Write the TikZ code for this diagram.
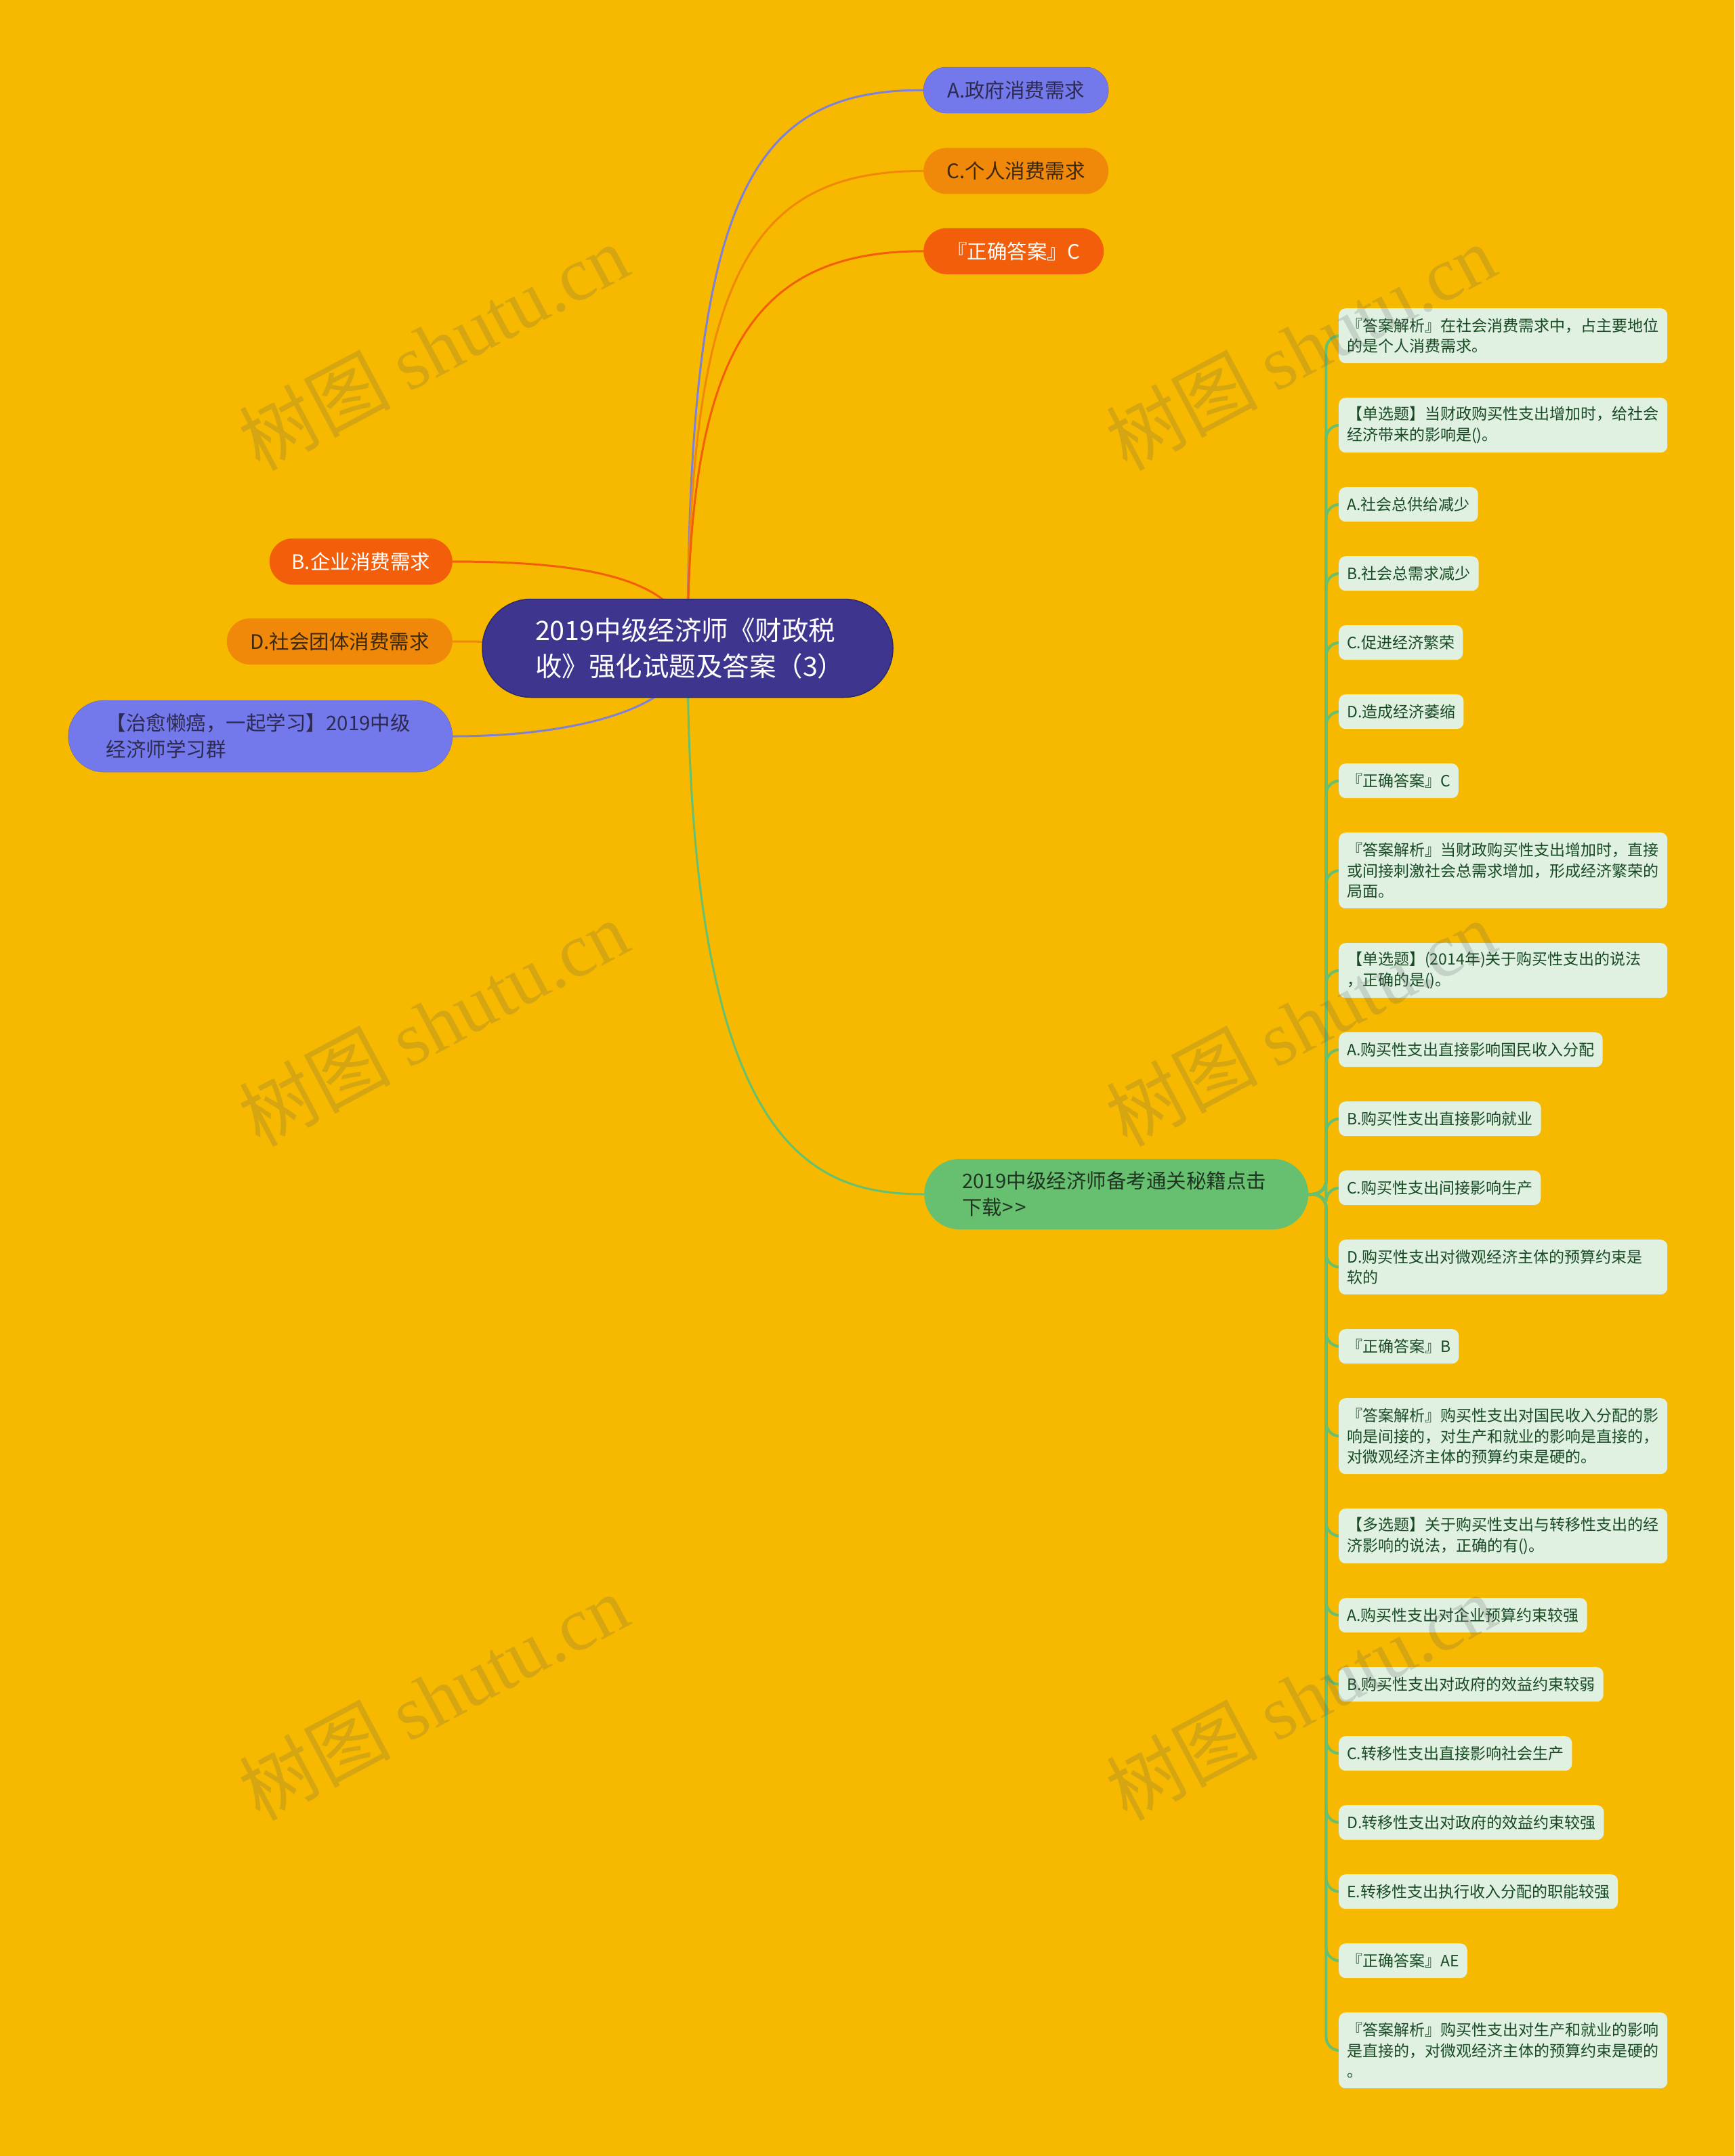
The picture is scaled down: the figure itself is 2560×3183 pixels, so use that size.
\documentclass[tikz,border=0pt]{standalone}
\usepackage{fontspec}
\setmainfont{Noto Sans CJK SC}
\newfontfamily\markfont{Liberation Serif}
\usetikzlibrary{positioning}
\definecolor{bgyellow}{RGB}{246,185,0}
\definecolor{rootblue}{RGB}{62,54,142}
\definecolor{rootedge}{RGB}{45,40,105}
\definecolor{lilac}{RGB}{115,120,234}
\definecolor{lilacline}{RGB}{128,128,214}
\definecolor{amber}{RGB}{240,136,10}
\definecolor{flame}{RGB}{242,94,10}
\definecolor{leafgreen}{RGB}{102,192,112}
\definecolor{mint}{RGB}{224,241,226}
\definecolor{pine}{RGB}{24,74,36}
\definecolor{inkdark}{RGB}{45,42,80}
\definecolor{inkbrown}{RGB}{60,40,12}
\definecolor{inkgreen}{RGB}{32,52,34}
\definecolor{wmgray}{RGB}{90,90,90}
\pgfdeclarelayer{paper}
\pgfdeclarelayer{links}
\pgfdeclarelayer{marks}
\pgfsetlayers{paper,links,main,marks}

\begin{document}
\begin{tikzpicture}[x=1pt, y=-1pt,
		root/.style={fill=rootblue, draw=rootedge, line width=1.5pt, rounded corners=72pt,
			minimum width=606pt, minimum height=145pt, inner xsep=0pt, text width=450pt,
			align=left, text=white, font=\fontsize{39.5}{53}\selectfont},
		pill/.style={rounded corners=34pt, minimum height=68pt, inner xsep=0pt,
			align=center, font=\fontsize{29.5}{39}\selectfont},
		bigpill/.style={pill, rounded corners=53pt, minimum height=106pt, inner xsep=56pt,
			text width=455pt, align=left},
		leaf/.style={fill=mint, rounded corners=10pt, text=pine, inner xsep=12pt,
			inner ysep=0pt, minimum height=51pt, align=left,
			font=\fontsize{23}{30.5}\selectfont},
		twoline/.style={leaf, minimum height=81pt, text width=461pt},
		threeline/.style={leaf, minimum height=112pt, text width=461pt},
		link/.style={line width=3pt},
		twig/.style={draw=leafgreen, line width=4pt, rounded corners=20pt},
		wmark/.style={rotate=28, text=wmgray, opacity=0.2, font=\fontsize{112}{112}\selectfont},
		node distance=50.6pt
	]
	\useasboundingbox (0,0) rectangle (2560,3183);
	\begin{pgfonlayer}{paper}
		\fill[bgyellow] (0,0) rectangle (2560,3183);
	\end{pgfonlayer}

	% centre
	\node[root] (root) at (1015,957) {2019中级经济师《财政税\\收》强化试题及答案（3）};

	% upper right
	\node[pill, fill=lilac, draw=lilac!80!black, text=inkdark, minimum width=273pt, anchor=west] (nA) at (1363,133) {A.政府消费需求};
	\node[pill, fill=amber, text=inkbrown, minimum width=273pt, below=51pt of nA.south west, anchor=north west] (nC) {C.个人消费需求};
	\node[pill, fill=flame, text=white, minimum width=266pt, below=50pt of nC.south west, anchor=north west] (nF) {『正确答案』C};

	% left
	\node[pill, fill=flame, text=white, minimum width=270pt, anchor=east] (nB) at (668,829) {B.企业消费需求};
	\node[pill, fill=amber, text=inkbrown, minimum width=333pt, anchor=east] (nD) at (668,947) {D.社会团体消费需求};
	\node[bigpill, fill=lilac, draw=lilac!80!black, text=inkdark, anchor=east] (nQ) at (668,1087) {【治愈懒癌，一起学习】2019中级\\经济师学习群};

	% lower right
	\node[bigpill, fill=leafgreen, text=inkgreen, minimum height=104pt, rounded corners=52pt, anchor=west] (gr) at (1364,1763) {2019中级经济师备考通关秘籍点击\\下载>\kern3pt>};

	% leaves
	\node[twoline, anchor=north west] (l1) at (1976,455) {『答案解析』在社会消费需求中，占主要地位\\的是个人消费需求。};
	\node[twoline, below=of l1.south west, anchor=north west] (l2) {【单选题】当财政购买性支出增加时，给社会\\经济带来的影响是()。};
	\node[leaf, below=of l2.south west, anchor=north west] (l3) {A.社会总供给减少};
	\node[leaf, below=of l3.south west, anchor=north west] (l4) {B.社会总需求减少};
	\node[leaf, below=of l4.south west, anchor=north west] (l5) {C.促进经济繁荣};
	\node[leaf, below=of l5.south west, anchor=north west] (l6) {D.造成经济萎缩};
	\node[leaf, below=of l6.south west, anchor=north west] (l7) {『正确答案』C};
	\node[threeline, below=of l7.south west, anchor=north west] (l8) {『答案解析』当财政购买性支出增加时，直接\\或间接刺激社会总需求增加，形成经济繁荣的\\局面。};
	\node[twoline, below=of l8.south west, anchor=north west] (l9) {【单选题】(2014年)关于购买性支出的说法\\，正确的是()。};
	\node[leaf, below=of l9.south west, anchor=north west] (l10) {A.购买性支出直接影响国民收入分配};
	\node[leaf, below=of l10.south west, anchor=north west] (l11) {B.购买性支出直接影响就业};
	\node[leaf, below=of l11.south west, anchor=north west] (l12) {C.购买性支出间接影响生产};
	\node[twoline, below=of l12.south west, anchor=north west] (l13) {D.购买性支出对微观经济主体的预算约束是\\软的};
	\node[leaf, below=of l13.south west, anchor=north west] (l14) {『正确答案』B};
	\node[threeline, below=of l14.south west, anchor=north west] (l15) {『答案解析』购买性支出对国民收入分配的影\\响是间接的，对生产和就业的影响是直接的，\\对微观经济主体的预算约束是硬的。};
	\node[twoline, below=of l15.south west, anchor=north west] (l16) {【多选题】关于购买性支出与转移性支出的经\\济影响的说法，正确的有()。};
	\node[leaf, below=of l16.south west, anchor=north west] (l17) {A.购买性支出对企业预算约束较强};
	\node[leaf, below=of l17.south west, anchor=north west] (l18) {B.购买性支出对政府的效益约束较弱};
	\node[leaf, below=of l18.south west, anchor=north west] (l19) {C.转移性支出直接影响社会生产};
	\node[leaf, below=of l19.south west, anchor=north west] (l20) {D.转移性支出对政府的效益约束较强};
	\node[leaf, below=of l20.south west, anchor=north west] (l21) {E.转移性支出执行收入分配的职能较强};
	\node[leaf, below=of l21.south west, anchor=north west] (l22) {『正确答案』AE};
	\node[threeline, below=of l22.south west, anchor=north west] (l23) {『答案解析』购买性支出对生产和就业的影响\\是直接的，对微观经济主体的预算约束是硬的\\。};

	\begin{pgfonlayer}{links}
		\draw[link, draw=lilacline] (root.center) .. controls +(0,-680) and +(-250,0) .. (nA.west);
		\draw[link, draw=amber] (root.center) .. controls +(0,-560) and +(-250,0) .. (nC.west);
		\draw[link, draw=flame] (root.center) .. controls +(0,-440) and +(-250,0) .. (nF.west);
		\draw[link, draw=flame] (root.center) .. controls +(0,-107) and +(182,0) .. (nB.east);
		\draw[link, draw=amber] (root.center) .. controls +(-165,0) and +(152,0) .. (nD.east);
		\draw[link, draw=lilacline] (root.center) .. controls +(0,88) and +(182,0) .. (nQ.east);
		\draw[link, draw=leafgreen] (root.center) .. controls +(0,743) and +(-164,0) .. (gr.west);
		\foreach \i in {1,...,23}
			\draw[twig] (gr.east) -- ++(26,0) |- (l\i.west);
	\end{pgfonlayer}

	\begin{pgfonlayer}{marks}
		\foreach \wx/\wy [count=\k] in {640/512,1920/512,640/1510,1920/1510,640/2505,1920/2505}
			\node[wmark] (wm\k) at (\wx,\wy) {树图 {\markfont shutu.cn}};
	\end{pgfonlayer}
\end{tikzpicture}
\end{document}
